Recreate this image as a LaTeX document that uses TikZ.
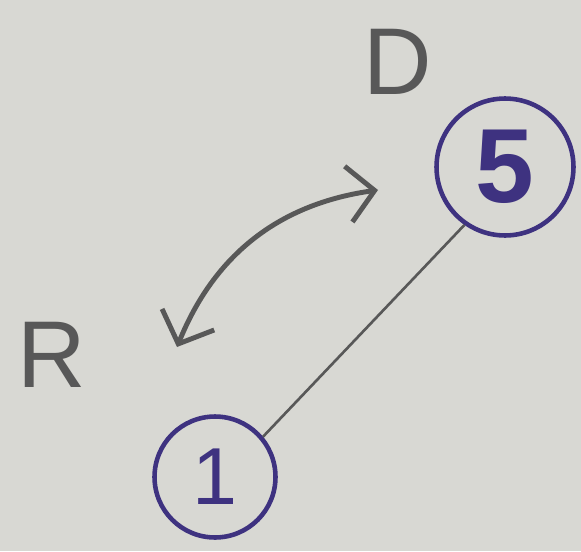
\documentclass[tikz,border=0pt]{standalone}
\usepackage{fontspec}
\setmainfont{Liberation Sans}
\usetikzlibrary{arrows.meta}
\definecolor{paper}{RGB}{216,216,211}
\definecolor{ink}{RGB}{62,50,128}
\definecolor{lead}{RGB}{88,88,88}
\tikzset{
  state/.style={circle, draw=ink, line width=2.6pt, text=ink, inner sep=0pt},
  lbl/.style={text=lead, font=\fontsize{54}{60}\selectfont},
}
\begin{document}
\begin{tikzpicture}[x=0.02cm, y=-0.02cm]
\fill[paper] (0,0) rectangle (581,551);
\useasboundingbox (0,0) rectangle (581,551);
\node[state, minimum size=2.74cm, font=\fontsize{60}{66}\selectfont\bfseries] (n5) at (505,167) {5};
\node[state, minimum size=2.42cm, font=\fontsize{46}{50}\selectfont] (n1) at (215,477) {1};
\node[lbl] (d) at (398,62) {D};
\node[lbl] (r) at (52,355) {R};
\draw[lead, line width=1.5pt] (n5.235) -- (n1.40);
\coordinate (tipR) at (177,347);
\coordinate (tipD) at (378,190);
\draw[lead, line width=2.8pt, line cap=round,
  {Straight Barb[length=15pt, width=32pt]}-{Straight Barb[length=15pt, width=32pt]}]
  (tipR) to[bend left=30] (tipD);
\end{tikzpicture}
\end{document}
